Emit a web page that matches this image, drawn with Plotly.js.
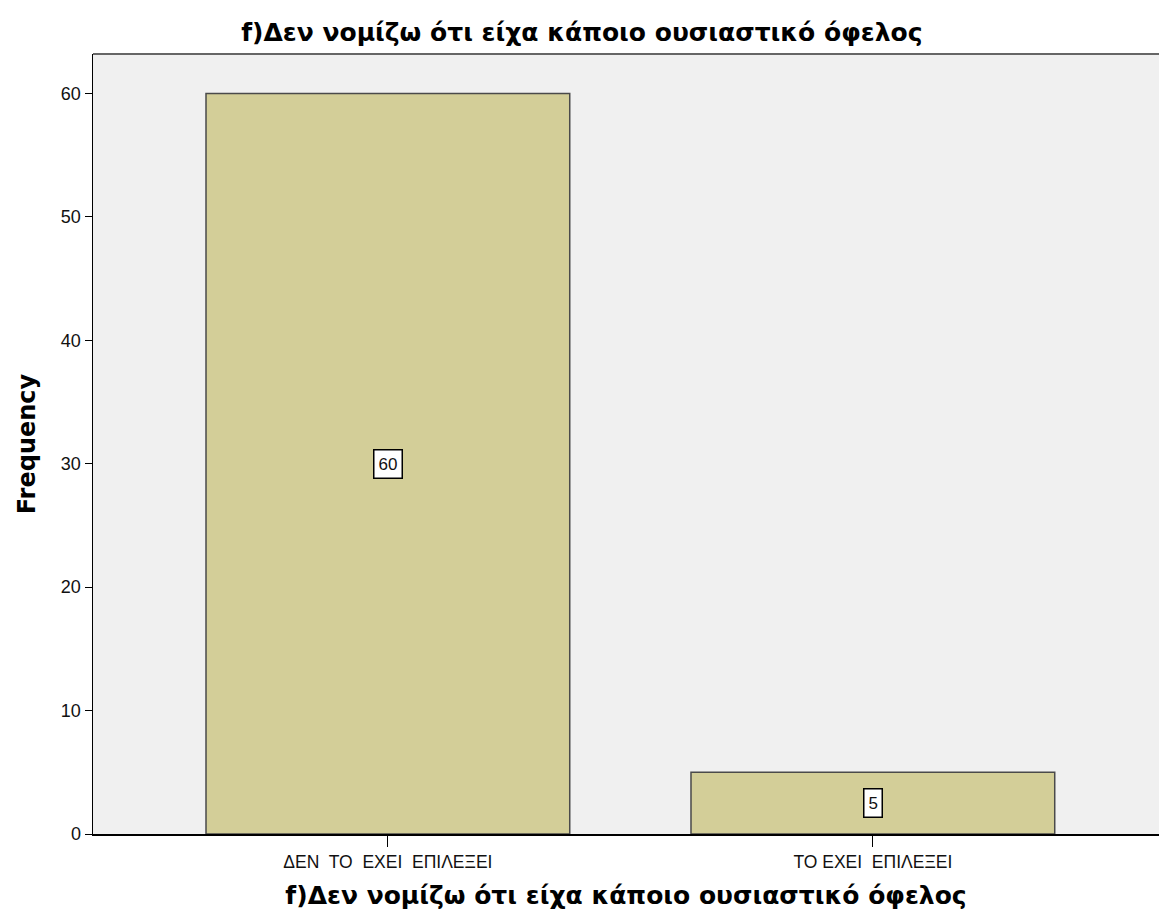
<!DOCTYPE html>
<html>
<head>
<meta charset="utf-8">
<script src="https://cdn.plot.ly/plotly-3.0.1.min.js"></script>
<style>
  html, body { margin: 0; padding: 0; background: #fff; }
  #chart { width: 1159px; height: 921px; }
</style>
</head>
<body>
<div id="chart"></div>
<script>
  const chartTitle = 'f)Δεν νομίζω ότι είχα κάποιο ουσιαστικό όφελος';
  const categories = ['ΔΕΝ  ΤΟ  ΕΧΕΙ  ΕΠΙΛΕΞΕΙ', 'ΤΟ ΕΧΕΙ  ΕΠΙΛΕΞΕΙ'];
  const frequencies = [60, 5];
  const yTicks = [0, 10, 20, 30, 40, 50, 60];

  const boldFont = 'DejaVu Sans, Verdana, sans-serif';
  const plainFont = 'Liberation Sans, Arial, sans-serif';

  const barTrace = {
    type: 'bar',
    x: categories,
    y: frequencies,
    width: 0.75,
    marker: {
      color: '#d3ce98',
      line: { color: '#4a4a4a', width: 1.5 }
    },
    hoverinfo: 'x+y',
    showlegend: false
  };

  // value boxes in the middle of each bar
  const valueLabels = categories.map((cat, i) => ({
    x: cat,
    y: frequencies[i] / 2,
    xref: 'x',
    yref: 'y',
    text: String(frequencies[i]),
    showarrow: false,
    bgcolor: '#ffffff',
    bordercolor: '#000000',
    borderwidth: 1.5,
    borderpad: 4,
    font: { family: plainFont, size: 17, color: '#111' }
  }));

  const layout = {
    width: 1159,
    height: 921,
    paper_bgcolor: '#ffffff',
    plot_bgcolor: '#f0f0f0',
    margin: { t: 54, r: 0, b: 87, l: 93 },
    font: { family: plainFont, color: '#111' },
    title: {
      text: '<b>' + chartTitle + '</b>',
      font: { family: boldFont, size: 25, color: '#000' },
      x: 0.502,
      xanchor: 'center',
      y: 0.965,
      yanchor: 'middle'
    },
    xaxis: {
      type: 'category',
      range: [-0.608, 1.59],
      showgrid: false,
      showline: true,
      linecolor: '#000',
      linewidth: 1.5,
      ticks: 'outside',
      ticklen: 11,
      tickcolor: '#000',
      tickfont: { size: 17.5, color: '#111' },
      title: {
        text: '<b>' + chartTitle + '</b>',
        font: { family: boldFont, size: 25, color: '#000' },
        standoff: 16
      },
      fixedrange: true
    },
    yaxis: {
      range: [0, 63.2],
      tickvals: yTicks,
      showgrid: false,
      zeroline: false,
      showline: true,
      linecolor: '#000',
      linewidth: 1.5,
      ticks: 'outside',
      ticklen: 7,
      tickcolor: '#000',
      tickfont: { size: 18, color: '#111' },
      title: {
        text: '<b>Frequency</b>',
        font: { family: boldFont, size: 24, color: '#000' },
        standoff: 18
      },
      fixedrange: true
    },
    shapes: [
      {
        type: 'line',
        xref: 'paper',
        yref: 'paper',
        x0: 0,
        x1: 1,
        y0: 1,
        y1: 1,
        line: { color: '#666', width: 2 }
      }
    ],
    annotations: valueLabels
  };

  Plotly.newPlot('chart', [barTrace], layout, { displayModeBar: false, staticPlot: true });
</script>
</body>
</html>
